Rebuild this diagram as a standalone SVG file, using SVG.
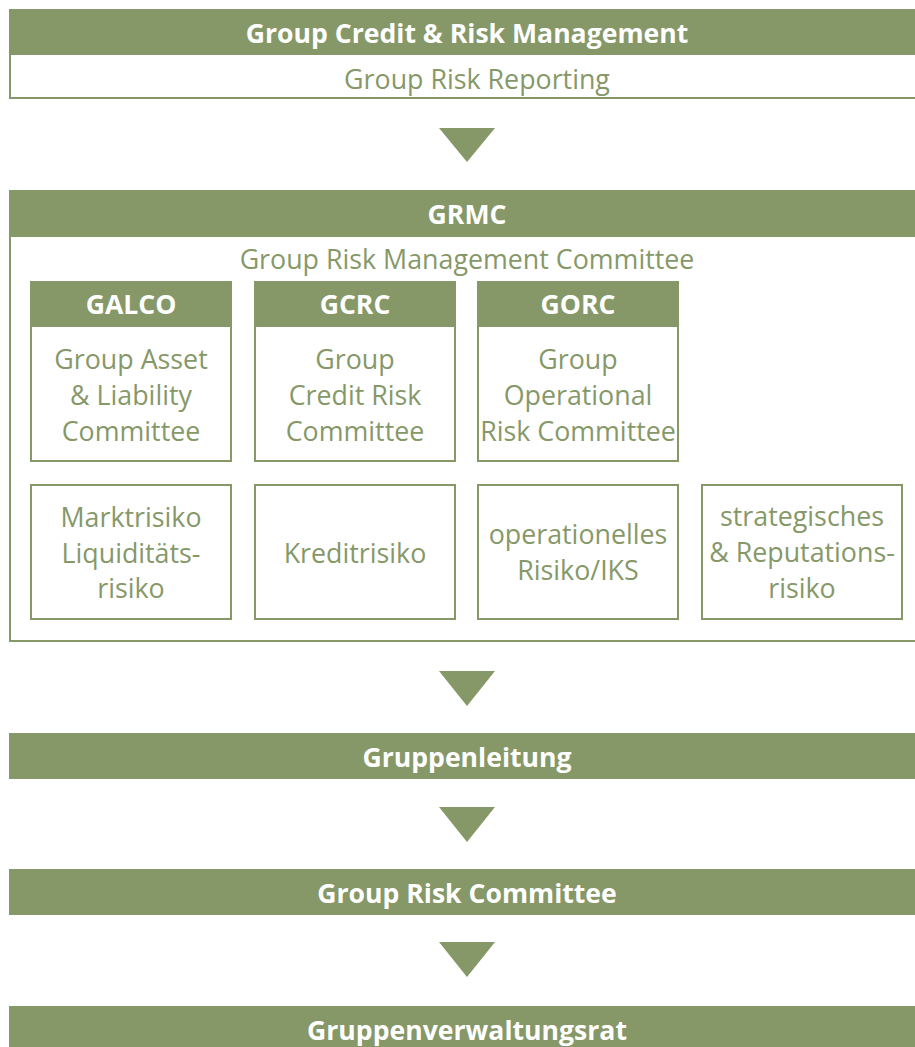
<svg xmlns="http://www.w3.org/2000/svg" width="915" height="1047" viewBox="0 0 915 1047">
<style>
.hdr{fill:#869868}
.box{fill:#ffffff;stroke:#869868;stroke-width:2}
.bt{font-family:"Open Sans","Noto Sans","DejaVu Sans",sans-serif;font-weight:700;font-size:26.6px;fill:#ffffff;text-anchor:middle}
.rt{font-family:"Open Sans","Noto Sans","DejaVu Sans",sans-serif;font-weight:400;font-size:26.8px;fill:#869868;text-anchor:middle}
.arr{fill:#869868}
</style>
<rect width="915" height="1047" fill="#ffffff"/>
<g id="gcrm">
<rect class="box" x="10" y="54" width="915" height="44"/>
<rect class="hdr" x="9" y="9" width="916" height="45"/>
<text class="bt" x="467" y="43">Group Credit &amp; Risk Management</text>
<text class="rt" x="477" y="89">Group Risk Reporting</text>
</g>
<g id="grmc">
<rect class="box" x="10" y="236" width="915" height="405"/>
<rect class="hdr" x="9" y="190" width="916" height="46"/>
<text class="bt" x="467" y="224">GRMC</text>
<text class="rt" x="467" y="269">Group Risk Management Committee</text>
</g>
<g id="galco">
<rect class="box" x="31" y="326" width="200" height="135"/>
<rect class="hdr" x="30" y="281" width="202" height="45"/>
<text class="bt" x="131" y="314">GALCO</text>
<text class="rt" x="131" y="369">Group Asset</text>
<text class="rt" x="131" y="405">&amp; Liability</text>
<text class="rt" x="131" y="441">Committee</text>
</g>
<g id="gcrc">
<rect class="box" x="255" y="326" width="200" height="135"/>
<rect class="hdr" x="254" y="281" width="202" height="45"/>
<text class="bt" x="355" y="314">GCRC</text>
<text class="rt" x="355" y="369">Group</text>
<text class="rt" x="355" y="405">Credit Risk</text>
<text class="rt" x="355" y="441">Committee</text>
</g>
<g id="gorc">
<rect class="box" x="478" y="326" width="200" height="135"/>
<rect class="hdr" x="477" y="281" width="202" height="45"/>
<text class="bt" x="578" y="314">GORC</text>
<text class="rt" x="578" y="369">Group</text>
<text class="rt" x="578" y="405">Operational</text>
<text class="rt" x="578" y="441">Risk Committee</text>
</g>
<g id="marktrisiko">
<rect class="box" x="31" y="485" width="200" height="134"/>
<text class="rt" x="131" y="527">Marktrisiko</text>
<text class="rt" x="131" y="563">Liquiditäts-</text>
<text class="rt" x="131" y="598">risiko</text>
</g>
<g id="kreditrisiko">
<rect class="box" x="255" y="485" width="200" height="134"/>
<text class="rt" x="355" y="563">Kreditrisiko</text>
</g>
<g id="oprisiko">
<rect class="box" x="478" y="485" width="200" height="134"/>
<text class="rt" x="578" y="544">operationelles</text>
<text class="rt" x="578" y="580">Risiko/IKS</text>
</g>
<g id="stratrisiko">
<rect class="box" x="702" y="485" width="200" height="134"/>
<text class="rt" x="802" y="526">strategisches</text>
<text class="rt" x="802" y="562">&amp; Reputations-</text>
<text class="rt" x="802" y="598">risiko</text>
</g>
<g id="gruppenleitung">
<rect class="hdr" x="9" y="733" width="916" height="46"/>
<text class="bt" x="467" y="767">Gruppenleitung</text>
</g>
<g id="grc">
<rect class="hdr" x="9" y="869" width="916" height="46"/>
<text class="bt" x="467" y="903">Group Risk Committee</text>
</g>
<g id="gvr">
<rect class="hdr" x="9" y="1006" width="916" height="46"/>
<text class="bt" x="467" y="1040">Gruppenverwaltungsrat</text>
</g>
<g id="connectors">
<polygon class="arr" points="439,128 495,128 467,162"/>
<polygon class="arr" points="439,671 495,671 467,706"/>
<polygon class="arr" points="439,807 495,807 467,842"/>
<polygon class="arr" points="439,942 495,942 467,977"/>
</g>
</svg>
